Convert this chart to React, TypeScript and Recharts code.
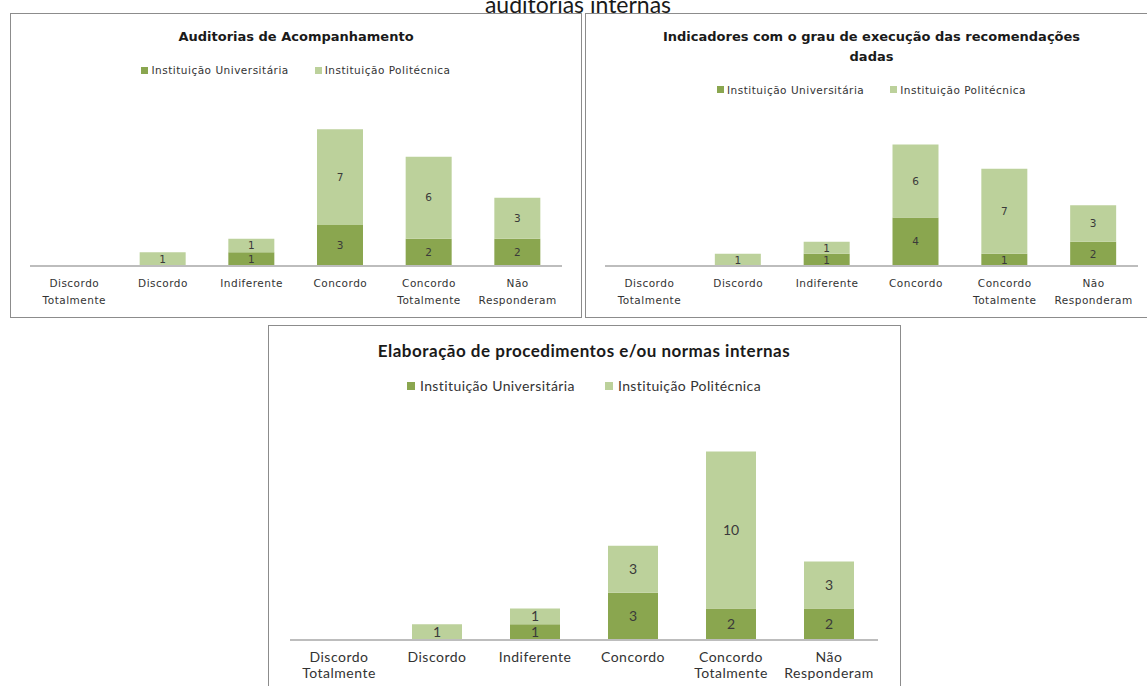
import React from "react";
import { Bar, BarChart, LabelList, XAxis, YAxis } from "recharts";

// categorias e séries
const categories = [
  "Discordo Totalmente",
  "Discordo",
  "Indiferente",
  "Concordo",
  "Concordo Totalmente",
  "Não Responderam",
];
const seriesNames = ["Instituição Universitária", "Instituição Politécnica"];

const auditUniv = [0, 0, 1, 3, 2, 2];
const auditPoli = [0, 1, 1, 7, 6, 3];

const indicUniv = [0, 0, 1, 4, 1, 2];
const indicPoli = [0, 1, 1, 6, 7, 3];

const normasUniv = [0, 0, 1, 3, 2, 2];
const normasPoli = [0, 1, 1, 3, 10, 3];

const DARK = "#8aa64f";
const LIGHT = "#bcd19b";
const LABEL = "#3a3a3a";
const BORDER = "#8c8c8c";

type Font = {
  family: string;
  title: number;
  titleSpacing: number;
  tick: number;
  tickSpacing: number;
  label: number;
  legend: number;
  legendSpacing: number;
  tickOffset: number;
  lineGap: number;
  iconSize: number;
  iconGap: number;
  itemGap: number;
};

const smallFont: Font = {
  family: "'DejaVu Sans', Verdana, sans-serif",
  title: 13,
  titleSpacing: 0,
  tick: 10.5,
  tickSpacing: 0.5,
  label: 10.5,
  legend: 10.5,
  legendSpacing: 0.5,
  tickOffset: 21,
  lineGap: 16.5,
  iconSize: 7,
  iconGap: 3,
  itemGap: 26,
};

const bigFont: Font = {
  family: "Lato, 'Open Sans', sans-serif",
  title: 17,
  titleSpacing: 0.5,
  tick: 14,
  tickSpacing: 0.5,
  label: 14,
  legend: 14,
  legendSpacing: 0.4,
  tickOffset: 22,
  lineGap: 16,
  iconSize: 8,
  iconGap: 5,
  itemGap: 30,
};

const AXIS_H = 40;

type PanelProps = {
  box: { left: number; top: number; width: number; height: number };
  plot: { x0: number; x1: number; top: number; bottom: number };
  titleLines: string[];
  titleY: number[];
  legendY: number;
  univ: number[];
  poli: number[];
  font: Font;
  barSize: number;
};

function ChartPanel(p: PanelProps) {
  const innerL = p.box.left + 1;
  const innerT = p.box.top + 1;
  const innerW = p.box.width - 2;
  const innerH = p.box.height - 2;
  const rows = categories.map((c, i) => ({ name: c, univ: p.univ[i], poli: p.poli[i] }));
  const margin = {
    left: p.plot.x0 - innerL,
    right: innerL + innerW - p.plot.x1,
    top: p.plot.top - innerT,
    bottom: innerT + innerH - p.plot.bottom - AXIS_H,
  };
  const cx = (p.plot.x0 + p.plot.x1) / 2 - innerL;
  const f = p.font;

  const renderTick = (props: any) => {
    const { x, y, payload } = props;
    const words = String(payload.value).split(" ");
    return (
      <text
        textAnchor="middle"
        fill="#333"
        fontFamily={f.family}
        fontSize={f.tick}
        letterSpacing={f.tickSpacing}
      >
        {words.map((w, i) => (
          <tspan key={i} x={x} y={y + f.tickOffset + i * f.lineGap}>
            {w}
          </tspan>
        ))}
      </text>
    );
  };

  const lh = f.title + 6;

  return (
    <div
      style={{
        position: "absolute",
        left: p.box.left,
        top: p.box.top,
        width: p.box.width,
        height: p.box.height,
        boxSizing: "border-box",
        border: `1px solid ${BORDER}`,
        background: "#fff",
      }}
    >
      {p.titleLines.map((t, i) => (
        <div
          key={i}
          style={{
            position: "absolute",
            left: cx - 300,
            width: 600,
            top: p.titleY[i] - innerT - lh / 2,
            lineHeight: `${lh}px`,
            textAlign: "center",
            fontFamily: f.family,
            fontSize: f.title,
            fontWeight: 700,
            letterSpacing: f.titleSpacing,
            color: "#1a1a1a",
            whiteSpace: "nowrap",
          }}
        >
          {t}
        </div>
      ))}
      <div
        style={{
          position: "absolute",
          left: cx - 300,
          width: 600,
          top: p.legendY - innerT - 8,
          height: 16,
          display: "flex",
          justifyContent: "center",
          alignItems: "center",
          fontFamily: f.family,
          fontSize: f.legend,
          letterSpacing: f.legendSpacing,
          color: "#333",
          whiteSpace: "nowrap",
        }}
      >
        {seriesNames.map((s, i) => (
          <span
            key={s}
            style={{ display: "flex", alignItems: "center", marginLeft: i ? f.itemGap : 0 }}
          >
            <span
              style={{
                display: "inline-block",
                width: f.iconSize,
                height: f.iconSize,
                background: i ? LIGHT : DARK,
                marginRight: f.iconGap,
              }}
            />
            {s}
          </span>
        ))}
      </div>
      <div style={{ position: "absolute", left: 0, top: 0 }}>
        <BarChart width={innerW} height={innerH} data={rows} margin={margin} barSize={p.barSize}>
          <XAxis
            dataKey="name"
            interval={0}
            height={AXIS_H}
            tickLine={false}
            tickSize={0}
            tickMargin={0}
            axisLine={{ stroke: "#bdbdbd", strokeWidth: 2 }}
            tick={renderTick}
          />
          <YAxis hide domain={[0, 12]} />
          <Bar dataKey="univ" name={seriesNames[0]} stackId="a" fill={DARK} isAnimationActive={false}>
            <LabelList
              dataKey="univ"
              position="center"
              fill={LABEL}
              fontFamily={f.family}
              fontSize={f.label}
              formatter={(v: any) => (v ? v : "")}
            />
          </Bar>
          <Bar dataKey="poli" name={seriesNames[1]} stackId="a" fill={LIGHT} isAnimationActive={false}>
            <LabelList
              dataKey="poli"
              position="center"
              fill={LABEL}
              fontFamily={f.family}
              fontSize={f.label}
              formatter={(v: any) => (v ? v : "")}
            />
          </Bar>
        </BarChart>
      </div>
    </div>
  );
}

export default function App() {
  return (
    <div
      style={{
        position: "absolute",
        left: 0,
        top: 0,
        width: 1147,
        height: 686,
        overflow: "hidden",
        background: "#fff",
      }}
    >
      <svg width={1147} height={30} style={{ position: "absolute", left: 0, top: 0 }}>
        <text x={578} y={12.5} textAnchor="middle" fontFamily="Lato, sans-serif" fontSize={23} fill="#1a1a1a">
          auditorias internas
        </text>
      </svg>
      <ChartPanel
        box={{ left: 10, top: 13, width: 572, height: 305 }}
        plot={{ x0: 30, x1: 562, top: 102, bottom: 266 }}
        titleLines={["Auditorias de Acompanhamento"]}
        titleY={[36.5]}
        legendY={70}
        univ={auditUniv}
        poli={auditPoli}
        font={smallFont}
        barSize={46}
      />
      <ChartPanel
        box={{ left: 585, top: 13, width: 565, height: 305 }}
        plot={{ x0: 605, x1: 1138, top: 120.2, bottom: 266 }}
        titleLines={["Indicadores com o grau de execução das recomendações", "dadas"]}
        titleY={[36.5, 56]}
        legendY={89.5}
        univ={indicUniv}
        poli={indicPoli}
        font={smallFont}
        barSize={46}
      />
      <ChartPanel
        box={{ left: 268, top: 325, width: 633, height: 370 }}
        plot={{ x0: 290, x1: 878, top: 451.4, bottom: 640 }}
        titleLines={["Elaboração de procedimentos e/ou normas internas"]}
        titleY={[350]}
        legendY={385.5}
        univ={normasUniv}
        poli={normasPoli}
        font={bigFont}
        barSize={50}
      />
    </div>
  );
}
